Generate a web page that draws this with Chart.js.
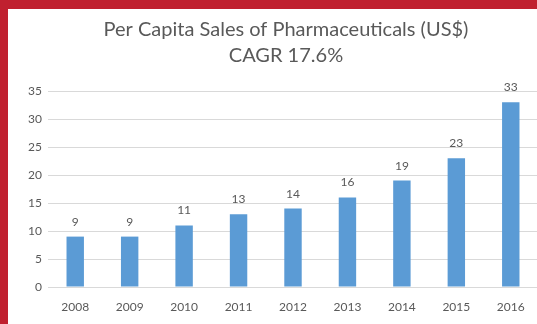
<!DOCTYPE html>
<html>
<head>
<meta charset="utf-8">
<script src="https://cdn.jsdelivr.net/npm/chart.js@4"></script>
<style>
  html, body { margin: 0; padding: 0; background: #C0202F; overflow: hidden; width: 537px; height: 324px; }
  .card { position: absolute; left: 8px; top: 9px; width: 556px; height: 315px; background: #fff; }
</style>
</head>
<body>
<div class="card"><canvas id="myChart" width="556" height="315"></canvas></div>
<script>
const years = ['2008', '2009', '2010', '2011', '2012', '2013', '2014', '2015', '2016'];
const sales = [9, 9, 11, 13, 14, 16, 19, 23, 33];
const titleLines = ['Per Capita Sales of Pharmaceuticals (US$)', 'CAGR 17.6%'];

const gray = '#595959';

// value labels above each bar
const barLabels = {
  id: 'barLabels',
  afterDatasetsDraw(chart) {
    const ctx = chart.ctx;
    const meta = chart.getDatasetMeta(0);
    ctx.save();
    ctx.fillStyle = gray;
    ctx.font = '12px Lato';
    ctx.textAlign = 'center';
    ctx.textBaseline = 'alphabetic';
    meta.data.forEach((bar, i) => {
      ctx.fillText(sales[i], bar.x, bar.y - 11);
    });
    ctx.restore();
  }
};

const config = {
  type: 'bar',
  data: {
    labels: years,
    datasets: [{
      data: sales,
      backgroundColor: '#5B9BD5',
      borderWidth: 0,
      barPercentage: 0.32,
      categoryPercentage: 1
    }]
  },
  options: {
    responsive: false,
    animation: false,
    layout: { padding: 0 },
    plugins: {
      legend: { display: false },
      tooltip: { enabled: false },
      title: {
        display: true,
        text: titleLines,
        color: gray,
        font: { family: 'Lato', size: 20, weight: 'normal', lineHeight: 1.3 },
        padding: { top: 8, bottom: 22 }
      }
    },
    scales: {
      x: {
        grid: { display: false, drawTicks: false },
        border: { display: true, color: '#D9D9D9' },
        ticks: { color: gray, font: { family: 'Lato', size: 12 }, padding: 13, maxRotation: 0 },
        afterFit(scale) { scale.height = 37; }
      },
      y: {
        min: 0,
        max: 35,
        ticks: { stepSize: 5, color: gray, font: { family: 'Lato', size: 12 }, padding: 6 },
        grid: { color: '#D9D9D9', drawTicks: false },
        border: { display: false },
        afterFit(scale) { scale.width = 40; }
      },
      // empty right axis: only keeps room so the title centres like the original
      y2: {
        position: 'right',
        grid: { display: false, drawTicks: false },
        ticks: { display: false },
        border: { display: false },
        afterFit(scale) { scale.width = 26; }
      }
    }
  },
  plugins: [barLabels]
};

const myChart = new Chart(document.getElementById('myChart'), config);
</script>
</body>
</html>
